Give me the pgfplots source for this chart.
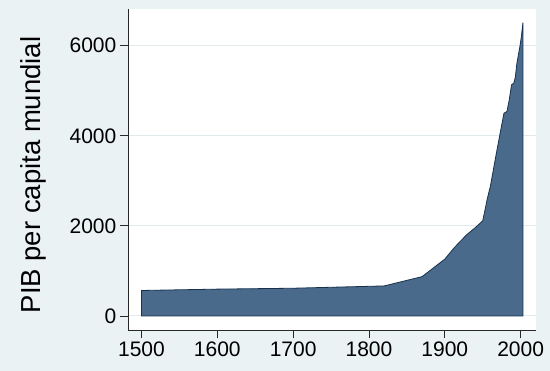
\documentclass[border=0pt]{standalone}
\usepackage{pgfplots}
\pgfplotsset{compat=1.18}
\usepackage{fontspec}
\setmainfont{Liberation Sans}
\definecolor{bgc}{RGB}{234,242,243}
\definecolor{gridc}{RGB}{226,234,237}
\definecolor{areaf}{RGB}{73,106,139}
\definecolor{areal}{RGB}{24,50,78}
\definecolor{axc}{RGB}{40,40,40}
\pgfplotstableread{
year gdp
1500 566
1600 596
1700 616
1820 667
1870 873
1900 1262
1913 1526
1929 1806
1940 1958
1950 2111
1953 2350
1956 2600
1960 2870
1964 3240
1968 3610
1973 4060
1978 4500
1980 4520
1982 4540
1985 4800
1988 5130
1991 5170
1993 5300
1995 5600
1999 5980
2001 6200
2003 6510
}\gdp
\begin{document}
\begin{tikzpicture}
\fill[bgc] (-128.4pt,-41pt) rectangle (421.6pt,330pt);
\useasboundingbox (-128.4pt,-41pt) rectangle (421.6pt,330pt);
\begin{axis}[
  at={(0,0)}, anchor=south west,
  scale only axis,
  width=407.4pt, height=320.7pt,
  xmin=1482.8, xmax=2020,
  ymin=-311, ymax=6808,
  axis x line*=bottom, axis y line*=left,
  axis line style={axc, line width=0.9pt},
  tick align=outside,
  major tick length=8.5pt,
  tick style={axc, line width=0.9pt},
  xtick={1500,1600,1700,1800,1900,2000},
  ytick={0,2000,4000,6000},
  xticklabel style={font=\fontsize{21}{24}\selectfont},
  yticklabel style={font=\fontsize{21}{24}\selectfont},
  /pgf/number format/assume math mode=true,
  /pgf/number format/1000 sep={},
  ymajorgrids, grid style={gridc, line width=1pt},
  axis background/.style={fill=white},
  ylabel={PIB per capita mundial},
  ylabel style={font=\fontsize{27.5}{30}\selectfont, at={(axis description cs:-0.2342,0.4834)}, anchor=center},
]
\addplot[fill=areaf, draw=areal, line width=0.8pt] table[x=year,y=gdp] {\gdp} \closedcycle;
\end{axis}
\end{tikzpicture}
\end{document}
